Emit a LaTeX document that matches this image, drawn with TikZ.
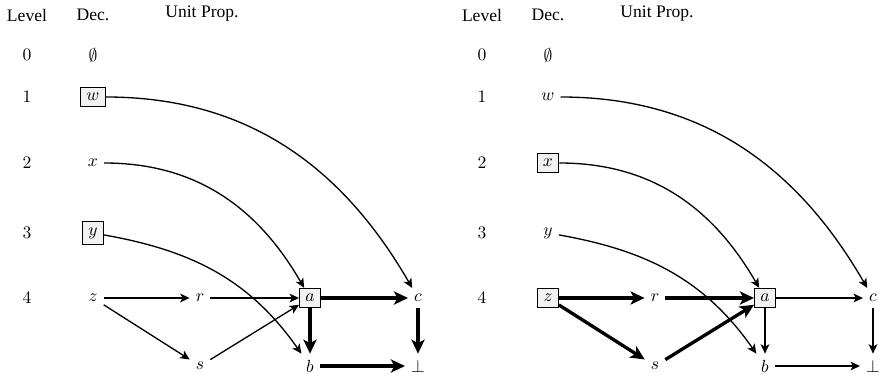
\documentclass[tikz,border=0pt]{standalone}
\usepackage{fontspec}
\setmainfont{Liberation Serif}
\usetikzlibrary{arrows.meta}
\tikzset{
  lit/.style={inner sep=3.33pt},
  dec/.style={lit, draw, semithick, fill=gray!10},
  hot/.style={-{Stealth[length=8pt,width=7.5pt,inset=2pt]}, line width=1.9pt},
  cold/.style={-{Stealth[length=5.4pt,width=5pt,inset=1.4pt]}, line width=0.75pt}
}
\begin{document}
\begin{tikzpicture}[x=1cm,y=1cm]
\useasboundingbox (0,0) rectangle (17.6,-7.56);
% left trail
\node (hlevL) at (0.54,-0.3) {Level};
\node (hdecL) at (1.86,-0.3) {Dec.};
\node (hupL) at (4.04,-0.28) {Unit Prop.};
\node (l0L) at (0.54,-1.1) {$0$};
\node (l1L) at (0.54,-1.94) {$1$};
\node (l2L) at (0.54,-3.26) {$2$};
\node (l3L) at (0.54,-4.66) {$3$};
\node (l4L) at (0.54,-5.96) {$4$};
\node[lit] (eL) at (1.86,-1.1) {$\emptyset$};
\node[dec] (wL) at (1.86,-1.94) {$w$};
\node[lit] (xL) at (1.86,-3.26) {$x$};
\node[dec] (yL) at (1.86,-4.66) {$y$};
\node[lit] (zL) at (1.86,-5.96) {$z$};
\node[lit] (rL) at (4.0,-5.96) {$r$};
\node[lit] (sL) at (4.0,-7.32) {$s$};
\node[dec] (aL) at (6.2,-5.96) {$a$};
\node[lit] (bL) at (6.2,-7.32) {$b$};
\node[lit] (cL) at (8.36,-5.96) {$c$};
\node[lit] (fL) at (8.36,-7.32) {$\bot$};
\draw[cold] (wL) to[out=0,in=120] (cL);
\draw[cold] (xL) to[out=0,in=120] (aL);
\draw[cold] (yL) to[out=-10,in=125] (bL);
\draw[cold] (zL) -- (rL);
\draw[cold] (zL) -- (sL);
\draw[cold] (rL) -- (aL);
\draw[cold] (sL) -- (aL);
\draw[hot] (aL) -- (cL);
\draw[hot] (aL) -- (bL);
\draw[hot] (cL) -- (fL);
\draw[hot] (bL) -- (fL);
% right trail
\node (hlevR) at (9.64,-0.3) {Level};
\node (hdecR) at (10.96,-0.3) {Dec.};
\node (hupR) at (13.14,-0.28) {Unit Prop.};
\node (l0R) at (9.64,-1.1) {$0$};
\node (l1R) at (9.64,-1.94) {$1$};
\node (l2R) at (9.64,-3.26) {$2$};
\node (l3R) at (9.64,-4.66) {$3$};
\node (l4R) at (9.64,-5.96) {$4$};
\node[lit] (eR) at (10.96,-1.1) {$\emptyset$};
\node[lit] (wR) at (10.96,-1.94) {$w$};
\node[dec] (xR) at (10.96,-3.26) {$x$};
\node[lit] (yR) at (10.96,-4.66) {$y$};
\node[dec] (zR) at (10.96,-5.96) {$z$};
\node[lit] (rR) at (13.1,-5.96) {$r$};
\node[lit] (sR) at (13.1,-7.32) {$s$};
\node[dec] (aR) at (15.3,-5.96) {$a$};
\node[lit] (bR) at (15.3,-7.32) {$b$};
\node[lit] (cR) at (17.46,-5.96) {$c$};
\node[lit] (fR) at (17.46,-7.32) {$\bot$};
\draw[cold] (wR) to[out=0,in=120] (cR);
\draw[cold] (xR) to[out=0,in=120] (aR);
\draw[cold] (yR) to[out=-10,in=125] (bR);
\draw[hot] (zR) -- (rR);
\draw[hot] (zR) -- (sR);
\draw[hot] (rR) -- (aR);
\draw[hot] (sR) -- (aR);
\draw[cold] (aR) -- (cR);
\draw[cold] (aR) -- (bR);
\draw[cold] (cR) -- (fR);
\draw[cold] (bR) -- (fR);
\end{tikzpicture}
\end{document}
